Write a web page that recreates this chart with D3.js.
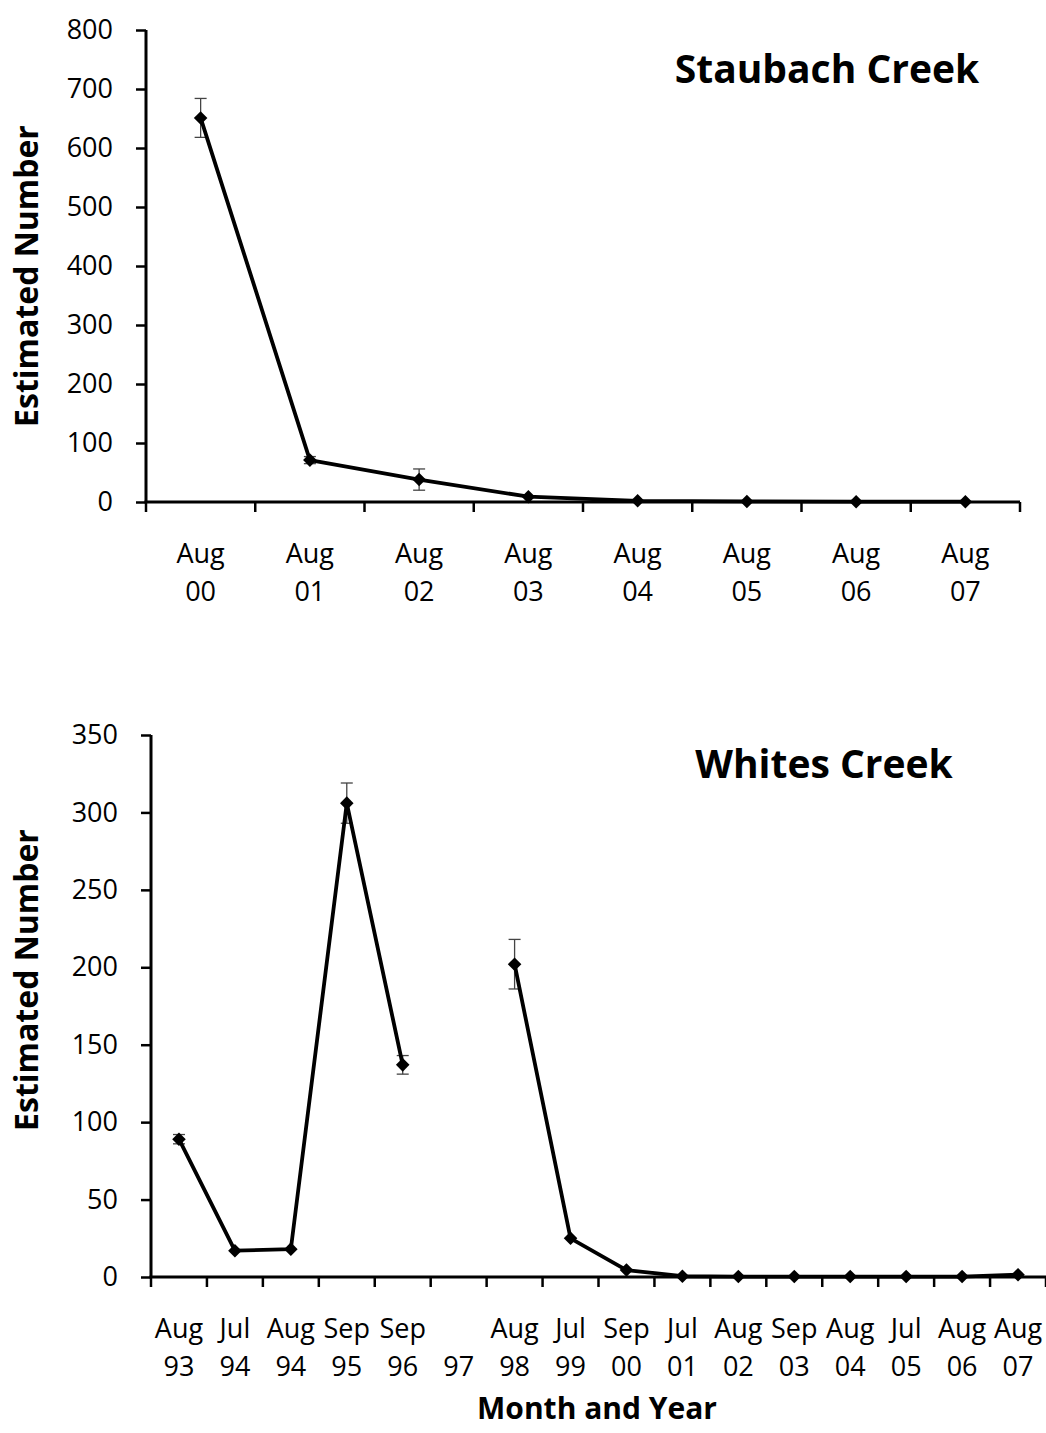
<!DOCTYPE html>
<html>
<head>
<meta charset="utf-8">
<script src="https://cdn.jsdelivr.net/npm/d3@7"></script>
<style>
  body { margin: 0; background: #fff; }
  text { font-family: "Open Sans", sans-serif; fill: #000; }
</style>
</head>
<body>
<svg width="1046" height="1433"></svg>
<script>
// Staubach Creek
var staubachMonths = ["Aug", "Aug", "Aug", "Aug", "Aug", "Aug", "Aug", "Aug"];
var staubachYears  = ["00", "01", "02", "03", "04", "05", "06", "07"];
var staubachValues = [651, 71, 38, 9, 2, 1, 0.5, 0.5];
var staubachErrors = [33, 6, 18, 0, 0, 0, 0, 0];
var staubachTicks  = [0, 100, 200, 300, 400, 500, 600, 700, 800];

// Whites Creek (no survey in 97)
var whitesMonths = ["Aug", "Jul", "Aug", "Sep", "Sep", "", "Aug", "Jul", "Sep", "Jul", "Aug", "Sep", "Aug", "Jul", "Aug", "Aug"];
var whitesYears  = ["93", "94", "94", "95", "96", "97", "98", "99", "00", "01", "02", "03", "04", "05", "06", "07"];
var whitesValues = [89, 17, 18, 306, 137, null, 202, 25, 4.5, 0.5, 0.3, 0.3, 0.3, 0.3, 0.3, 1.5];
var whitesErrors = [3, 0, 0, 13, 6, null, 16, 0, 0, 0, 0, 0, 0, 0, 0, 0];
var whitesTicks  = [0, 50, 100, 150, 200, 250, 300, 350];

var svg = d3.select("svg");

function drawPanel(p) {
  var n = p.values.length;
  var data = p.values.map(function(v, i) { return { i: i, v: v, e: p.errors[i] }; });

  var x = d3.scaleBand()
      .domain(d3.range(n))
      .range([p.left, p.right])
      .paddingInner(0).paddingOuter(0);

  var y = d3.scaleLinear()
      .domain([0, p.yMax])
      .range([p.bottom, p.top]);

  var g = svg.append("g");

  // y axis
  var yAxis = g.append("g")
      .attr("transform", "translate(" + p.left + ",0)")
      .call(d3.axisLeft(y).tickValues(p.ticks).tickSize(10).tickPadding(23).tickFormat(d3.format("d")));
  yAxis.select(".domain").attr("stroke", "#000").attr("stroke-width", 3)
      .attr("d", "M0," + p.top + "V" + p.bottom);
  yAxis.selectAll(".tick line").attr("stroke", "#000").attr("stroke-width", 2.5);
  yAxis.selectAll(".tick text").style("font-size", "27px").style("font-family", "'Open Sans', sans-serif");

  // x axis: line plus ticks on category boundaries
  var xg = g.append("g");
  xg.append("line")
      .attr("x1", p.left - 1.5).attr("x2", p.right)
      .attr("y1", y(0)).attr("y2", y(0))
      .attr("stroke", "#000").attr("stroke-width", 3);
  var bounds = d3.range(n + 1).map(function(i) { return i < n ? x(i) : x(n - 1) + x.bandwidth(); });
  xg.selectAll(".xtick")
    .data(bounds)
    .enter().append("line")
      .attr("x1", function(d) { return d; }).attr("x2", function(d) { return d; })
      .attr("y1", y(0)).attr("y2", y(0) + 10)
      .attr("stroke", "#000").attr("stroke-width", 2.5);

  var labels = xg.selectAll(".xlab")
    .data(data)
    .enter().append("text")
      .attr("text-anchor", "middle")
      .style("font-size", "27px");
  labels.append("tspan")
      .attr("x", function(d) { return x(d.i) + x.bandwidth() / 2; })
      .attr("y", y(0) + 61)
      .text(function(d) { return p.months[d.i]; });
  labels.append("tspan")
      .attr("x", function(d) { return x(d.i) + x.bandwidth() / 2; })
      .attr("y", y(0) + 99)
      .text(function(d) { return p.years[d.i]; });

  var cx = function(d) { return x(d.i) + x.bandwidth() / 2; };

  // error bars
  var eb = g.selectAll(".err")
    .data(data.filter(function(d) { return d.v != null && d.e > 0; }))
    .enter().append("g")
      .attr("stroke", "#444").attr("stroke-width", 1.3);
  eb.append("line")
      .attr("x1", cx).attr("x2", cx)
      .attr("y1", function(d) { return y(d.v + d.e); })
      .attr("y2", function(d) { return y(d.v - d.e); });
  eb.append("line")
      .attr("x1", function(d) { return cx(d) - 6; }).attr("x2", function(d) { return cx(d) + 6; })
      .attr("y1", function(d) { return y(d.v + d.e); }).attr("y2", function(d) { return y(d.v + d.e); });
  eb.append("line")
      .attr("x1", function(d) { return cx(d) - 6; }).attr("x2", function(d) { return cx(d) + 6; })
      .attr("y1", function(d) { return y(d.v - d.e); }).attr("y2", function(d) { return y(d.v - d.e); });

  // line
  var line = d3.line()
      .defined(function(d) { return d.v != null; })
      .x(cx)
      .y(function(d) { return y(d.v); });
  g.append("path")
      .datum(data)
      .attr("fill", "none")
      .attr("stroke", "#000")
      .attr("stroke-width", 3.8)
      .attr("stroke-linejoin", "round")
      .attr("d", line);

  // diamond markers
  g.selectAll(".pt")
    .data(data.filter(function(d) { return d.v != null; }))
    .enter().append("path")
      .attr("d", d3.symbol().type(d3.symbolSquare).size(92))
      .attr("transform", function(d) { return "translate(" + cx(d) + "," + y(d.v) + ") rotate(45)"; })
      .attr("fill", "#000");

  // panel title
  g.append("text")
      .attr("x", p.titleX).attr("y", p.titleY)
      .attr("text-anchor", "middle")
      .style("font-size", "39px").style("font-weight", "bold")
      .text(p.title);

  // y axis title
  g.append("text")
      .attr("transform", "translate(38," + p.yTitleY + ") rotate(-90)")
      .attr("text-anchor", "middle")
      .style("font-size", "32px").style("font-weight", "bold")
      .text("Estimated Number");
}

drawPanel({
  left: 146, right: 1020, top: 30, bottom: 502, yMax: 800,
  ticks: staubachTicks, months: staubachMonths, years: staubachYears,
  values: staubachValues, errors: staubachErrors,
  title: "Staubach Creek", titleX: 827, titleY: 83, yTitleY: 276
});

drawPanel({
  left: 151, right: 1046, top: 735, bottom: 1277, yMax: 350,
  ticks: whitesTicks, months: whitesMonths, years: whitesYears,
  values: whitesValues, errors: whitesErrors,
  title: "Whites Creek", titleX: 824, titleY: 778, yTitleY: 980
});

svg.append("text")
    .attr("x", 597).attr("y", 1419)
    .attr("text-anchor", "middle")
    .style("font-size", "30px").style("font-weight", "bold")
    .text("Month and Year");
</script>
</body>
</html>
